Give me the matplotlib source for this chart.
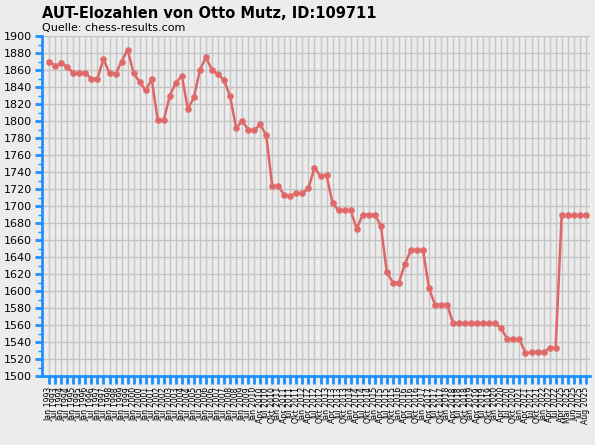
import matplotlib
matplotlib.use("Agg")
import matplotlib.pyplot as plt

elo = [1870, 1865, 1868, 1864, 1856, 1856, 1856, 1850, 1850, 1873,
       1856, 1855, 1870, 1884, 1856, 1846, 1836, 1849, 1801, 1801,
       1830, 1845, 1853, 1814, 1828, 1860, 1875, 1860, 1855, 1848,
       1829, 1792, 1800, 1790, 1789, 1796, 1783, 1723, 1723, 1713,
       1712, 1715, 1715, 1721, 1745, 1735, 1736, 1703, 1695, 1695,
       1695, 1673, 1690, 1690, 1690, 1677, 1622, 1610, 1610, 1632,
       1648, 1648, 1648, 1603, 1584, 1584, 1584, 1562, 1562, 1562,
       1562, 1562, 1562, 1562, 1562, 1556, 1543, 1543, 1543, 1527,
       1528, 1528, 1528, 1533, 1533, 1689, 1689, 1689, 1689, 1689]

# date labels (semiannual first, then quarterly, monthly at the end)
labels = []
for y in range(1993, 2010):
    labels += [f"Jan {y}", f"Jul {y}"]
for y in range(2010, 2024):
    labels += [f"Jan {y}", f"Apr {y}", f"Jul {y}", f"Okt {y}"]
labels = labels[:len(elo) - 5] + ["Apr 2025", "Mai 2025", "Jun 2025", "Jul 2025", "Aug 2025"]
labels = labels[:len(elo)]

x = list(range(len(elo)))
bg = "#ececec"
fig = plt.figure(figsize=(5.95, 4.45), dpi=100, facecolor=bg)
ax = fig.add_axes([42 / 595, 69 / 445, 548 / 595, 340 / 445], facecolor=bg)

ax.plot(x, elo, color="#e06666", lw=1.8, marker="o", ms=3.8, mec="#e07070", mfc="#e06666")
ax.set_xlim(-1.2, len(elo) - 0.3)
ax.set_ylim(1500, 1900)
ax.set_yticks(range(1500, 1901, 20))
ax.set_yticks(range(1500, 1901, 10), minor=True)
ax.set_xticks(x)
ax.set_xticklabels(labels, rotation=90, fontsize=5.6)
ax.tick_params(axis="y", labelsize=8, color="#1e90ff", width=2, length=5, pad=2)
ax.tick_params(axis="y", which="minor", color="#1e90ff", width=1, length=3)
ax.tick_params(axis="x", color="#1e90ff", width=2, length=6, pad=2)
ax.grid(True, color="#c4c4c4", lw=1)
ax.set_axisbelow(True)
for s in ["top", "right"]:
    ax.spines[s].set_visible(False)
for s in ["left", "bottom"]:
    ax.spines[s].set_color("#1e90ff")
    ax.spines[s].set_linewidth(2)

fig.text(42 / 595, 1 - 13 / 445, "AUT-Elozahlen von Otto Mutz, ID:109711", fontsize=10.5,
         fontweight="bold", va="center")
fig.text(42 / 595, 1 - 28 / 445, "Quelle: chess-results.com", fontsize=8, va="center")
fig.savefig("out.png", dpi=100, facecolor=bg)
